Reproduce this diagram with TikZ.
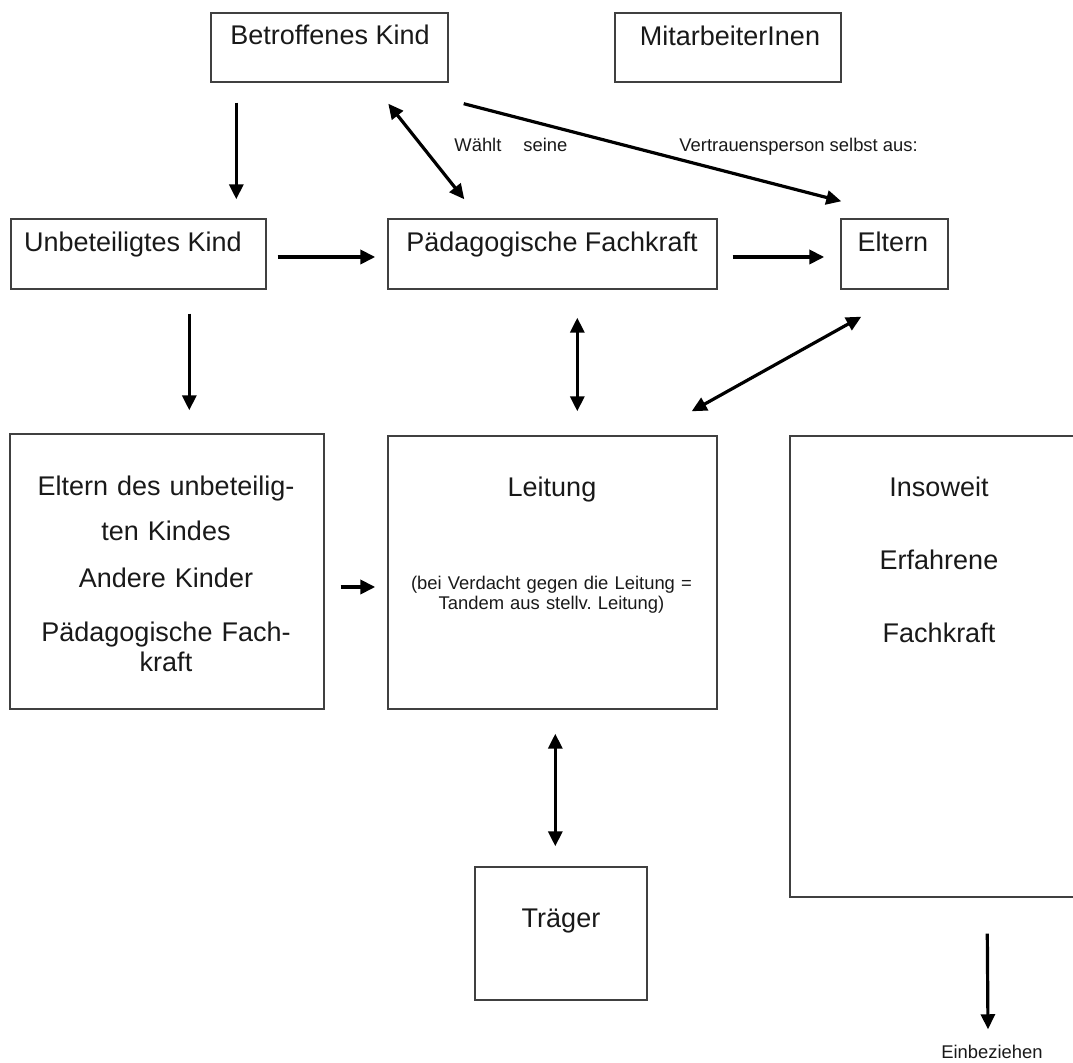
\documentclass[tikz,border=0pt]{standalone}
\usepackage{fontspec}
\setmainfont{Liberation Sans}
\usetikzlibrary{arrows.meta}
\newcommand{\boxfont}{\fontsize{13.5}{16}\selectfont}
\newcommand{\notefont}{\fontsize{9.2}{10}\selectfont}

\begin{document}
\begin{tikzpicture}[x=0.5pt,y=-0.5pt,
    box/.style={draw=black!75,line width=0.7pt,inner sep=0pt},
    txt/.style={inner sep=0pt,anchor=base,font=\boxfont,text=black!90},
    note/.style={inner sep=0pt,anchor=base,font=\notefont,text=black!90,align=center},
    arr/.style={line width=1.6pt,-{Triangle[length=7.5pt,width=7pt]}},
    darr/.style={line width=1.6pt,{Triangle[length=7.5pt,width=7pt]}-{Triangle[length=7.5pt,width=7pt]}}]
  \useasboundingbox (0,0) rectangle (1073,1063);
  \clip (0,0) rectangle (1073,1063);
  % boxes
  \node[box,minimum width=118.5pt,minimum height=34.5pt] (betr) at (329.5,47.5) {};
  \node[box,minimum width=113pt,minimum height=34.5pt] (mitarb) at (728,47.5) {};
  \node[box,minimum width=127.5pt,minimum height=35pt] (unbet) at (138.5,254) {};
  \node[box,minimum width=164.5pt,minimum height=35pt] (paed) at (552.5,254) {};
  \node[box,minimum width=53.5pt,minimum height=35pt] (eltern) at (894.5,254) {};
  \node[box,minimum width=157pt,minimum height=137.5pt] (eltunb) at (167,571.5) {};
  \node[box,minimum width=164.5pt,minimum height=136.5pt] (leitung) at (552.5,572.5) {};
  \node[box,minimum width=155pt,minimum height=230.5pt] (insow) at (945,666.5) {};
  \node[box,minimum width=86pt,minimum height=66.5pt] (traeger) at (561,933.5) {};
  % texts
  \node[txt] (betr-t) at (330,45) {Betroffenes Kind};
  \node[txt] (mitarb-t) at (730,46) {MitarbeiterInen};
  \node[txt] (unbet-t) at (133,252) {Unbeteiligtes Kind};
  \node[txt] (paed-t) at (552,252) {Pädagogische Fachkraft};
  \node[txt] (eltern-t) at (893,252) {Eltern};
  \node[txt,text width=150pt,align=center] (eltunb-t) at (166,496)
    {Eltern des unbeteilig-\\[6.5pt]ten Kindes\\[7.5pt]Andere Kinder\\[11pt]Pädagogische Fach-\\[-1pt]kraft};
  \node[txt] (leitung-t) at (552,497) {Leitung};
  \node[note,text width=160pt] (leitung-n) at (551.5,590)
    {(bei Verdacht gegen die Leitung =\\Tandem aus stellv.\ Leitung)};
  \node[txt,text width=150pt,align=center] (insow-t) at (939,497)
    {Insoweit\\[20.5pt]Erfahrene\\[20.5pt]Fachkraft};
  \node[txt] (traeger-t) at (561,928) {Träger};
  \node[note,anchor=base west] (waehlt) at (454,152)
    {Wählt\hspace{11pt}seine\hspace{56pt}Vertrauensperson selbst aus:};
  \node[note] (einb) at (992,1059) {Einbeziehen};
  % arrows
  \draw[arr] ([shift={(26,20)}]betr.south west) -- ([shift={(226,-19)}]unbet.north west);
  \draw[darr] ([shift={(178,21)}]betr.south west) -- ([shift={(77,-19)}]paed.north west);
  \draw[arr] ([shift={(15,21)}]betr.south east) -- ([shift={(1,-17)}]eltern.north west);
  \draw[arr,line width=2pt] ([shift={(11,3)}]unbet.east) -- ([shift={(-12,3)}]paed.west);
  \draw[arr,line width=2pt] ([shift={(15,3)}]paed.east) -- ([shift={(-16,3)}]eltern.west);
  \draw[arr] ([shift={(179,24)}]unbet.south west) -- ([shift={(180,-23)}]eltunb.north west);
  \draw[darr] ([shift={(190,28)}]paed.south west) -- ([shift={(190,-24)}]leitung.north west);
  \draw[darr] ([shift={(21,27)}]eltern.south west) -- ([shift={(-26,-24)}]leitung.north east);
  \draw[arr,line width=2pt] ([shift={(16,15.5)}]eltunb.east) -- ([shift={(-12,14.5)}]leitung.west);
  \draw[darr] ([shift={(168,24)}]leitung.south west) -- ([shift={(81,-20)}]traeger.north west);
  \draw[arr] ([shift={(198,36)}]insow.south west) -- ([shift={(-4,-16)}]einb.north);
\end{tikzpicture}
\end{document}
